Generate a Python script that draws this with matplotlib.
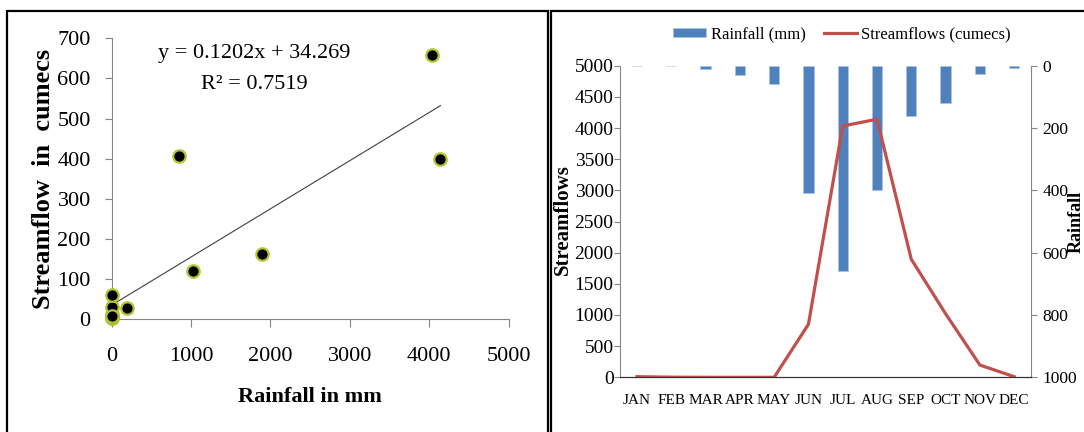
import numpy as np
import matplotlib.pyplot as plt
from matplotlib.patches import Rectangle

plt.rcParams['font.family'] = ['Liberation Serif', 'DejaVu Serif']

months = ['JAN', 'FEB', 'MAR', 'APR', 'MAY', 'JUN', 'JUL', 'AUG', 'SEP', 'OCT', 'NOV', 'DEC']
rainfall_mm = [10, 2, 0, 0, 0, 851, 4033, 4141, 1894, 1020, 197, 10]
streamflow_cumecs = [2, 2, 12, 29, 59, 407, 659, 398, 162, 119, 27, 7.5]

# linear fit shown on the scatter
slope = 0.1202
intercept = 34.269
r2 = 0.7519

grey = '#868686'

fig = plt.figure(figsize=(10.84, 4.32), dpi=100)

# boxes round the two panels
fig.patches.append(Rectangle((6.7 / 1084, -0.1), (548 - 6.7) / 1084, 1.1 - 10.7 / 432,
                             fill=False, lw=1.6, ec='black', transform=fig.transFigure))
fig.patches.append(Rectangle((550.7 / 1084, -0.1), 1.0, 1.1 - 10.7 / 432,
                             fill=False, lw=1.6, ec='black', transform=fig.transFigure))

# ---- scatter: streamflow against rainfall ----
ax1 = fig.add_axes([0.1029, 0.2616, 0.3663, 0.6497])
ax1.scatter(rainfall_mm, streamflow_cumecs, s=80, c='black', edgecolors='#b2c530',
            linewidths=1.6, zorder=3, clip_on=False)
xfit = np.array([min(rainfall_mm), max(rainfall_mm)])
ax1.plot(xfit, slope * xfit + intercept, color='#404040', lw=0.8, zorder=2)
ax1.set_xlim(0, 5000)
ax1.set_ylim(0, 700)
ax1.set_xticks(np.arange(0, 5001, 1000))
ax1.set_yticks(np.arange(0, 701, 100))
for s in ['top', 'right']:
    ax1.spines[s].set_visible(False)
for s in ['left', 'bottom']:
    ax1.spines[s].set_color(grey)
ax1.tick_params(axis='x', length=6, color=grey, labelsize=16, pad=14)
ax1.tick_params(axis='y', length=5, color=grey, labelsize=16, pad=10)
ax1.set_xlabel('Rainfall in mm', fontsize=16, fontweight='bold', labelpad=15)
ax1.set_ylabel('Streamflow  in  cumecs', fontsize=19, fontweight='bold', labelpad=2)
ax1.text(0.36, 0.945, 'y = {}x + {}'.format(slope, intercept), transform=ax1.transAxes,
         fontsize=16, ha='center', va='center')
ax1.text(0.36, 0.835, 'R² = {}'.format(r2), transform=ax1.transAxes,
         fontsize=16, ha='center', va='center')

# ---- monthly chart: bars hanging from the top on an inverted axis ----
x = np.arange(len(months))
ax2 = fig.add_axes([0.5718, 0.1266, 0.3796, 0.7213])
ax3 = ax2.twinx()
ax3.bar(x, streamflow_cumecs, width=0.3, color='#4f81bd', edgecolor='#a9c4e6', lw=0.4,
        label='Rainfall (mm)')
ax3.set_ylim(1000, 0)
ax3.set_yticks(np.arange(0, 1001, 200))
ax2.plot(x, rainfall_mm, color='#c0504d', lw=2.3, label='Streamflows (cumecs)')
ax2.set_ylim(0, 5000)
ax2.set_yticks(np.arange(0, 5001, 500))
ax2.set_xlim(-0.5, 11.5)
ax2.set_xticks(x)
ax2.set_xticklabels(months)
ax2.set_zorder(ax3.get_zorder() + 1)
ax2.patch.set_visible(False)

for a in [ax2, ax3]:
    a.spines['top'].set_visible(False)
    a.spines['left'].set_color(grey)
    a.spines['right'].set_color(grey)
    a.spines['bottom'].set_color('#333333')
ax2.spines['right'].set_visible(False)
ax3.spines['left'].set_visible(False)
ax2.tick_params(axis='y', length=4, color=grey, labelsize=14, pad=0.5)
ax2.tick_params(axis='x', length=0, labelsize=11, pad=12)
ax3.tick_params(axis='y', length=4, color=grey, labelsize=12.5, pad=4)

fig.text(563 / 1084, 1 - 220 / 432, 'Streamflows', rotation=90, fontsize=15,
         fontweight='bold', ha='center', va='center')
fig.text(1084.5 / 1084, 1 - 222 / 432, 'Rainfall', rotation=90, fontsize=13,
         fontweight='bold', ha='right', va='center')

h3, l3 = ax3.get_legend_handles_labels()
h2, l2 = ax2.get_legend_handles_labels()
fig.legend(h3 + h2, l3 + l2, loc='center', bbox_to_anchor=(842 / 1084, 1 - 34 / 432),
           ncol=2, frameon=False, fontsize=12, handlelength=2.0, handleheight=0.45,
           handletextpad=0.25, columnspacing=1.1)

fig.savefig('out.png', dpi=100)
